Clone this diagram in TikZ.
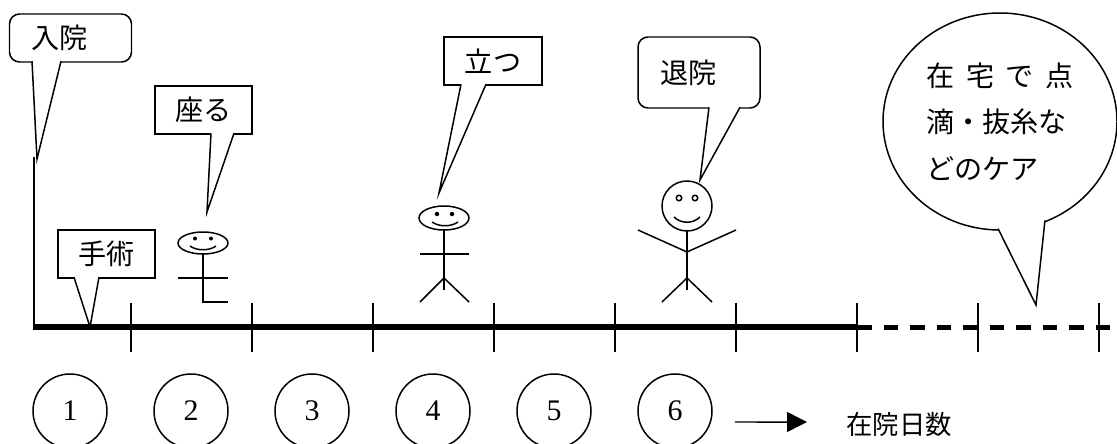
\documentclass[tikz,border=0pt]{standalone}
\usepackage{fontspec}
\newfontfamily\jp{Noto Sans CJK JP}
\newfontfamily\num{Liberation Serif}
\usetikzlibrary{arrows.meta,shapes.geometric}

\tikzset{
	box/.style={draw, fill=white, line width=0.85pt, minimum height=0.96cm, inner sep=0pt, font=\jp\fontsize{16}{18}\selectfont},
	roundbox/.style={box, rounded corners=0.2cm, text width=1.56cm, inner xsep=0.44cm, align=left},
	pointer/.style={fill=white, line width=0.85pt},
	stick/.style={line width=0.85pt},
	daytick/.style={line width=0.85pt},
	day/.style={circle, draw, line width=0.85pt, minimum size=1.48cm, inner sep=0pt, font=\num\fontsize{17}{19}\selectfont}
}

\begin{document}
\begin{tikzpicture}
		\useasboundingbox (-0.68,-2.32) rectangle (21.66,6.54);

		% day 2: sitting
		\draw[stick] (3.38,1.68) ellipse (0.5 and 0.22);
		\fill (3.22,1.77) circle (0.04);
		\fill (3.54,1.77) circle (0.04);
		\draw[stick] (3.12,1.62) .. controls (3.25,1.52) and (3.51,1.52) .. (3.64,1.62);
		\draw[stick] (3.38,1.46) -- (3.38,0.50) -- (3.88,0.50);
		\draw[stick] (2.88,0.98) -- (3.88,0.98);

		% day 4: standing
		\draw[stick] (8.20,2.18) ellipse (0.5 and 0.24);
		\fill (8.06,2.26) circle (0.045);
		\fill (8.36,2.26) circle (0.045);
		\draw[stick] (7.96,2.10) .. controls (8.10,2.00) and (8.34,2.00) .. (8.48,2.10);
		\draw[stick] (8.20,1.94) -- (8.20,0.74);
		\draw[stick] (7.72,1.46) -- (8.70,1.46);
		\draw[stick] (7.72,0.50) -- (8.20,0.98) -- (8.70,0.50);

		% day 6: going home
		\draw[stick] (13.06,2.42) circle (0.5);
		\draw[stick] (12.90,2.58) circle (0.055);
		\draw[stick] (13.22,2.58) circle (0.055);
		\draw[stick] (12.80,2.20) .. controls (12.94,2.06) and (13.18,2.06) .. (13.32,2.20);
		\draw[stick] (13.06,1.92) -- (13.06,0.74);
		\draw[stick] (12.08,1.94) -- (13.06,1.50) -- (14.04,1.94);
		\draw[stick] (12.56,0.50) -- (13.06,0.98) -- (13.56,0.50);

		% speech bubbles
		\coordinate (nyuintip) at (0.06,3.36);
		\coordinate (suwarutip) at (3.46,2.30);
		\coordinate (shujutsutip) at (1.12,0);
		\coordinate (tatsutip) at (8.10,2.68);
		\coordinate (taiintip) at (13.32,2.94);
		\coordinate (caretip) at (20.04,0.44);

		\node[roundbox] (nyuin) at (0.73,5.78) {入院};
		\node[box, minimum width=1.94cm] (suwaru) at (3.39,4.34) {座る};
		\node[box, minimum width=1.94cm] (shujutsu) at (1.45,1.46) {手術};
		\node[box, minimum width=1.96cm] (tatsu) at (9.18,5.32) {立つ};
		\node[roundbox, minimum height=1.42cm] (taiin) at (13.30,5.09) {退院};
		\node[ellipse, draw, fill=white, line width=0.85pt, minimum width=4.68cm, minimum height=4.34cm, inner sep=0pt,
			align=left, font=\jp\fontsize{16}{26.5}\selectfont] (care) at (19.32,4.11)
			{\makebox[2.94cm][s]{在\hfill 宅\hfill で\hfill 点}\\滴・抜糸な\\どのケア};

		\filldraw[pointer] ([shift={(-0.77,0.03)}]nyuin.south) -- (nyuintip) -- ([shift={(-0.19,0.03)}]nyuin.south);
		\filldraw[pointer] ([shift={(0.15,0.03)}]suwaru.south) -- (suwarutip) -- ([shift={(0.61,0.03)}]suwaru.south);
		\filldraw[pointer] ([shift={(-0.65,0.03)}]shujutsu.south) -- (shujutsutip) -- ([shift={(-0.15,0.03)}]shujutsu.south);
		\filldraw[pointer] ([shift={(-0.64,0.03)}]tatsu.south) -- (tatsutip) -- ([shift={(-0.14,0.03)}]tatsu.south);
		\filldraw[pointer] ([shift={(0.20,0.03)}]taiin.south) -- (taiintip) -- ([shift={(0.82,0.03)}]taiin.south);
		\filldraw[pointer] ([yshift=0.04cm]care.269) -- (caretip) -- ([yshift=0.04cm]care.294);

		% time line
		\draw[stick] (0,3.40) -- (0,0);
		\draw[line width=0.11cm] (-0.015,0) -- (16.44,0);
		\draw[line width=0.1cm, dash pattern=on 0.29cm off 0.24cm] (16.46,0) -- (21.7,0);
		\foreach \i in {1,...,9}
			\draw[daytick] (\i*2.42-0.48,0.49) -- (\i*2.42-0.48,-0.49);

		% days in hospital
		\foreach \n in {1,...,6}
			\node[day] (c\n) at (\n*2.42-1.70,-1.68) {\n};
		\node[anchor=west, inner sep=0pt, font=\jp\fontsize{15}{18}\selectfont] (days) at (16.24,-1.96) {在院日数};
		\draw[line width=0.85pt, -{Triangle[length=0.4cm,width=0.4cm]}] ([shift={(0.44,-0.22)}]c6.east) -- ([shift={(-0.78,0.06)}]days.west);

	\end{tikzpicture}
\end{document}
